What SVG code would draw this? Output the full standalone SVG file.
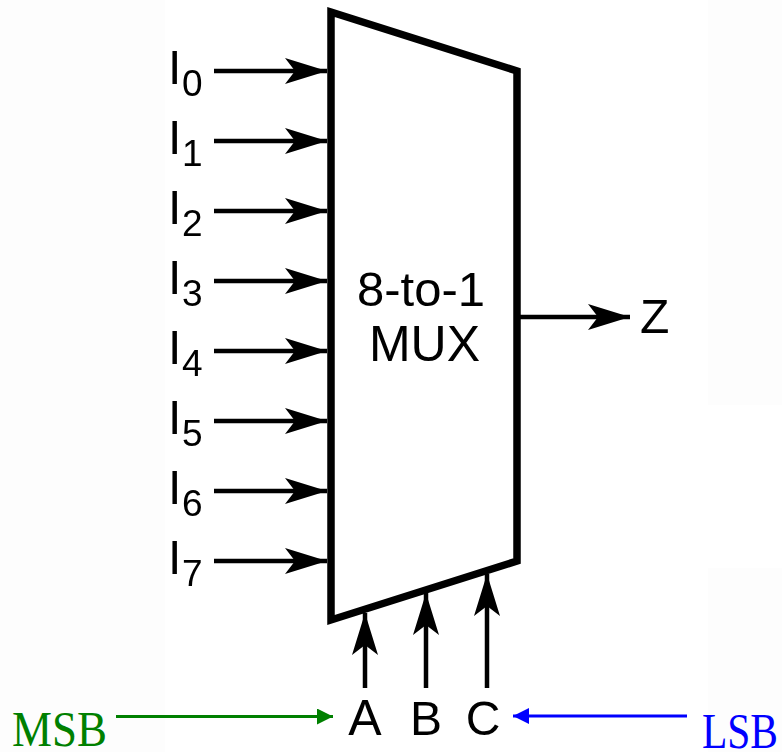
<svg xmlns="http://www.w3.org/2000/svg" width="782" height="752" viewBox="0 0 782 752">
<style>
.s{font-family:"Liberation Sans",Arial,sans-serif;fill:#000}
.l{font-size:48px}
.t{font-size:37px}
.n{font-family:"Liberation Serif","Times New Roman",serif;font-size:50px}
.c{stroke:#000;stroke-width:4.5;fill:none}
.soft{filter:url(#soft)}
</style>
<defs>
<filter id="soft" x="-5%" y="-5%" width="110%" height="110%"><feGaussianBlur stdDeviation="0.6"/></filter>
<marker id="ar" markerUnits="userSpaceOnUse" markerWidth="44" markerHeight="30" refX="42" refY="15" orient="auto"><path d="M0,2 L42,15 L0,28 L10,15 Z" fill="#000"/></marker>
<marker id="g" markerUnits="userSpaceOnUse" markerWidth="16" markerHeight="18" refX="16" refY="8" orient="auto"><path d="M0,0 L16,8 L0,16 Z" fill="#008000"/></marker>
<marker id="b" markerUnits="userSpaceOnUse" markerWidth="16" markerHeight="18" refX="16" refY="8" orient="auto"><path d="M0,0 L16,8 L0,16 Z" fill="#0000ff"/></marker>
</defs>
<rect width="782" height="752" fill="#fff"/>
<rect width="165" height="752" fill="#fdfdfd"/>
<rect x="708" width="74" height="405" fill="#fdfdfd"/>
<rect x="708" y="568" width="74" height="184" fill="#fdfdfd"/>
<g id="connectors">
<g class="soft">
<path class="c" marker-end="url(#ar)" d="M214,71H327"/>
<path class="c" marker-end="url(#ar)" d="M214,141H327"/>
<path class="c" marker-end="url(#ar)" d="M214,211H327"/>
<path class="c" marker-end="url(#ar)" d="M214,281H327"/>
<path class="c" marker-end="url(#ar)" d="M214,351H327"/>
<path class="c" marker-end="url(#ar)" d="M214,421H327"/>
<path class="c" marker-end="url(#ar)" d="M214,491H327"/>
<path class="c" marker-end="url(#ar)" d="M214,561H327"/>
<path class="c" marker-end="url(#ar)" d="M520,317H630"/>
<path class="c" marker-end="url(#ar)" d="M365,688V613"/>
<path class="c" marker-end="url(#ar)" d="M426,688V593"/>
<path class="c" marker-end="url(#ar)" d="M487,688V574"/>
</g>
<path stroke="#008000" stroke-width="3" fill="none" marker-end="url(#g)" d="M116,716.500H333"/>
<path stroke="#0000ff" stroke-width="3" fill="none" marker-end="url(#b)" d="M687,716H513"/>
</g>
<g id="mux" class="soft">
<path d="M331,12L517,71V561L331,620Z" fill="none" stroke="#000" stroke-width="7.500"/>
<text class="s" font-size="49" x="421" y="306" text-anchor="middle">8-to-1</text>
<text class="s" font-size="50" x="424.500" y="361" text-anchor="middle">MUX</text>
</g>
<g id="i0" class="soft"><text class="s l" x="168" y="84">I</text><text class="s t" x="182" y="96">0</text></g>
<g id="i1" class="soft"><text class="s l" x="168" y="154">I</text><text class="s t" x="182" y="166">1</text></g>
<g id="i2" class="soft"><text class="s l" x="168" y="224">I</text><text class="s t" x="182" y="236">2</text></g>
<g id="i3" class="soft"><text class="s l" x="168" y="294">I</text><text class="s t" x="182" y="306">3</text></g>
<g id="i4" class="soft"><text class="s l" x="168" y="364">I</text><text class="s t" x="182" y="376">4</text></g>
<g id="i5" class="soft"><text class="s l" x="168" y="434">I</text><text class="s t" x="182" y="446">5</text></g>
<g id="i6" class="soft"><text class="s l" x="168" y="504">I</text><text class="s t" x="182" y="516">6</text></g>
<g id="i7" class="soft"><text class="s l" x="168" y="574">I</text><text class="s t" x="182" y="586">7</text></g>
<g id="z" class="soft"><text class="s l" x="640" y="333">Z</text></g>
<g id="a" class="soft"><text class="s" font-size="50" x="365" y="735" text-anchor="middle">A</text></g>
<g id="b-in" class="soft"><text class="s l" x="426" y="735" text-anchor="middle">B</text></g>
<g id="c-in" class="soft"><text class="s l" x="483" y="735" text-anchor="middle">C</text></g>
<g id="msb"><text class="n" x="12" y="746" fill="#008000" textLength="95" lengthAdjust="spacingAndGlyphs">MSB</text></g>
<g id="lsb"><text class="n" x="702" y="748" fill="#0000ff" textLength="76" lengthAdjust="spacingAndGlyphs">LSB</text></g>
</svg>
